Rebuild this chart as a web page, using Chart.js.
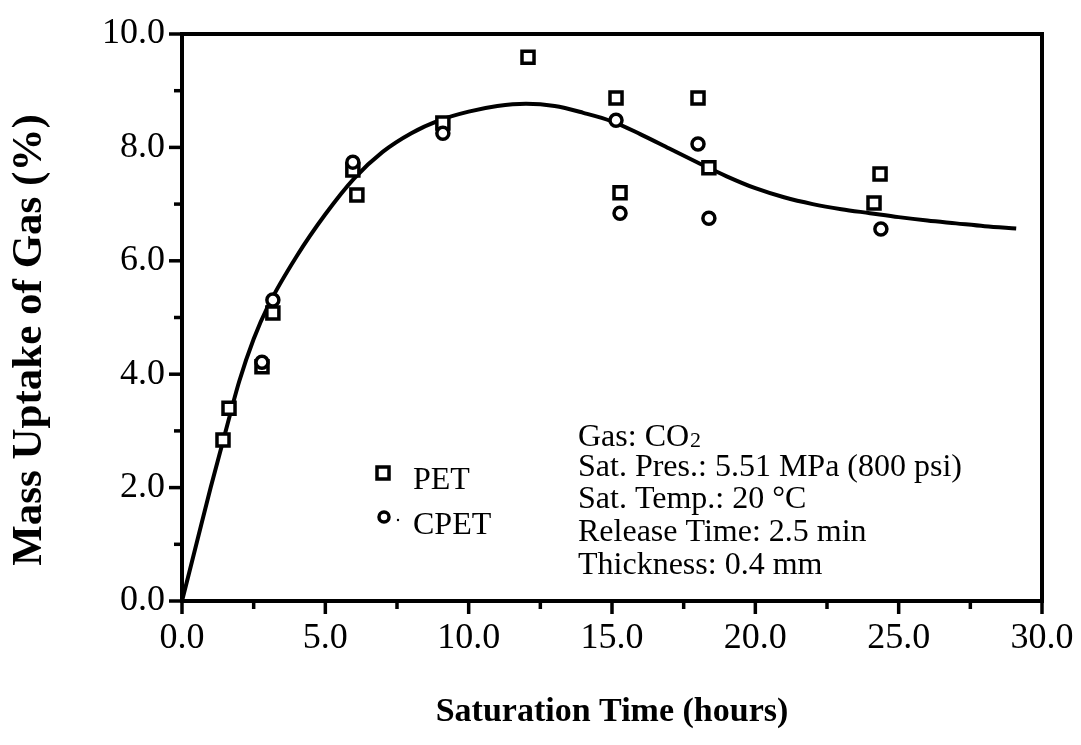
<!DOCTYPE html>
<html><head><meta charset="utf-8">
<script src="https://cdn.jsdelivr.net/npm/chart.js@4.4.1/dist/chart.umd.min.js"></script>
<style>html,body{margin:0;padding:0;background:#fff}#wrap{width:1081px;height:745px;position:relative}</style>
</head><body><div id="wrap"><canvas id="c"></canvas></div>
<script>
// ---- data ----
const petX  = [1.43, 1.64, 2.79, 3.17, 5.96, 6.10, 9.10, 12.07, 15.14, 15.28, 18.00, 18.38, 24.14, 24.35];
const petY  = [2.84, 3.40, 4.13, 5.08, 7.60, 7.16, 8.43, 9.59, 8.87, 7.20, 8.87, 7.64, 7.02, 7.53];
const cpetX = [2.79, 3.17, 5.96, 9.10, 15.14, 15.28, 18.00, 18.38, 24.38];
const cpetY = [4.21, 5.31, 7.74, 8.25, 8.48, 6.84, 8.06, 6.75, 6.56];
const fitX  = [0, 0.5, 1, 1.5, 2, 2.5, 3, 4, 5, 6, 7, 8, 9, 10, 11, 12, 13, 14, 15, 16, 17, 18, 19, 20, 21, 22, 23, 24, 25, 26, 27, 28, 29.1];
const fitY  = [0, 1.0, 2.0, 2.95, 3.88, 4.62, 5.2, 6.08, 6.82, 7.45, 7.92, 8.25, 8.48, 8.63, 8.73, 8.77, 8.73, 8.61, 8.46, 8.23, 7.98, 7.73, 7.49, 7.28, 7.12, 7.0, 6.91, 6.84, 6.77, 6.71, 6.66, 6.61, 6.57];
const xTicks = [0, 5, 10, 15, 20, 25, 30];
const yTicks = [0, 2, 4, 6, 8, 10];
const seriesNames = ['PET', 'CPET'];
const xTitle = 'Saturation Time (hours)';
const yTitle = 'Mass Uptake of Gas (%)';
const infoLines = ['Gas: CO', 'Sat. Pres.: 5.51 MPa (800 psi)', 'Sat. Temp.: 20 \u00B0C', 'Release Time: 2.5 min', 'Thickness: 0.4 mm'];

const SERIF = '"Liberation Serif", "Times New Roman", serif';
const toPts = (xs, ys) => xs.map((x, i) => ({x, y: ys[i]}));

const framePlugin = {
  id: 'frame',
  afterDraw(chart) {
    const {ctx, chartArea: a, scales: {x, y}} = chart;
    ctx.save();
    ctx.strokeStyle = '#000';
    ctx.lineWidth = 4;
    ctx.lineCap = 'square';
    ctx.strokeRect(a.left, a.top, a.right - a.left, a.bottom - a.top);
    ctx.lineWidth = 3.5;
    ctx.lineCap = 'butt';
    for (let v = 0; v <= 30.001; v += 2.5) {
      const px = x.getPixelForValue(v);
      const major = Math.abs(v / 5 - Math.round(v / 5)) < 1e-6;
      ctx.beginPath();
      ctx.moveTo(px, a.bottom);
      ctx.lineTo(px, a.bottom + (major ? 13 : 8));
      ctx.stroke();
    }
    for (let v = 0; v <= 10.001; v += 1) {
      const py = y.getPixelForValue(v);
      const major = v % 2 === 0;
      ctx.beginPath();
      ctx.moveTo(a.left, py);
      ctx.lineTo(a.left - (major ? 13 : 8), py);
      ctx.stroke();
    }
    // y-axis title (rotated)
    ctx.save();
    ctx.translate(30, a.top + 306);
    ctx.rotate(-Math.PI / 2);
    ctx.fillStyle = '#000';
    ctx.font = 'bold 43px ' + SERIF;
    ctx.textAlign = 'center';
    ctx.textBaseline = 'middle';
    ctx.fillText(yTitle, 0, 0);
    ctx.restore();
    // legend
    const lx = a.left + 201, ly1 = a.top + 439, ly2 = a.top + 483;
    ctx.lineWidth = 3.5;
    ctx.strokeStyle = '#000';
    ctx.fillStyle = '#fff';
    ctx.fillRect(lx - 6, ly1 - 6, 12, 12);
    ctx.strokeRect(lx - 6, ly1 - 6, 12, 12);
    ctx.beginPath();
    ctx.arc(lx + 1, ly2, 5, 0, Math.PI * 2);
    ctx.fill(); ctx.stroke();
    ctx.fillStyle = '#000';
    ctx.beginPath(); ctx.arc(lx + 15, ly2 + 3, 1.2, 0, Math.PI * 2); ctx.fill();
    ctx.font = '32px ' + SERIF;
    ctx.textBaseline = 'middle';
    ctx.textAlign = 'left';
    ctx.fillText(seriesNames[0], lx + 30, ly1 + 8);
    ctx.fillText(seriesNames[1], lx + 30, ly2 + 9);
    // info block
    const ix = a.left + 396;
    const iy = [a.top + 404, a.top + 434, a.top + 466, a.top + 499, a.top + 532];
    infoLines.forEach((t, i) => {
      ctx.font = '32px ' + SERIF;
      ctx.fillText(t, ix, iy[i]);
      if (i === 0) {
        const w = ctx.measureText(t).width;
        ctx.font = '22px ' + SERIF;
        ctx.fillText('2', ix + w + 1, iy[i] + 3);
      }
    });
    ctx.restore();
  }
};

new Chart(document.getElementById('c'), {
  type: 'scatter',
  data: {
    datasets: [
      {
        label: 'fit', data: toPts(fitX, fitY), showLine: true, pointRadius: 0,
        borderColor: '#000', borderWidth: 4, cubicInterpolationMode: 'monotone', fill: false, order: 3
      },
      {
        label: seriesNames[0], data: toPts(petX, petY), pointStyle: 'rect', pointRadius: 8.5,
        borderColor: '#000', backgroundColor: '#fff', pointBorderWidth: 3.5, order: 2
      },
      {
        label: seriesNames[1], data: toPts(cpetX, cpetY), pointStyle: 'circle', pointRadius: 6,
        borderColor: '#000', backgroundColor: '#fff', pointBorderWidth: 3.5, order: 1
      }
    ]
  },
  options: {
    responsive: true, maintainAspectRatio: false, animation: false,
    layout: {padding: {top: 34, right: 39, left: 0, bottom: 0}},
    plugins: {legend: {display: false}, tooltip: {enabled: false}},
    scales: {
      x: {
        type: 'linear', min: 0, max: 30,
        grid: {display: false, drawTicks: false}, border: {display: false},
        afterBuildTicks(s) { s.ticks = xTicks.map(v => ({value: v})); },
        afterFit(s) { s.height = 144; s.paddingLeft = 0; s.paddingRight = 0; },
        ticks: {color: '#000', padding: 16, maxRotation: 0, autoSkip: false,
          font: {family: SERIF, size: 36}, callback: v => Number(v).toFixed(1)},
        title: {display: true, text: xTitle, color: '#000',
          font: {family: SERIF, size: 34, weight: 'bold'}, padding: {top: 0, bottom: 12}}
      },
      y: {
        type: 'linear', min: 0, max: 10,
        grid: {display: false, drawTicks: false}, border: {display: false},
        afterBuildTicks(s) { s.ticks = yTicks.map(v => ({value: v})); },
        afterFit(s) { s.width = 182; s.paddingTop = 0; s.paddingBottom = 0; },
        ticks: {color: '#000', padding: 17, autoSkip: false,
          font: {family: SERIF, size: 36}, callback: v => Number(v).toFixed(1)},
        title: {display: false, text: yTitle}
      }
    }
  },
  plugins: [framePlugin]
});
</script></body></html>
